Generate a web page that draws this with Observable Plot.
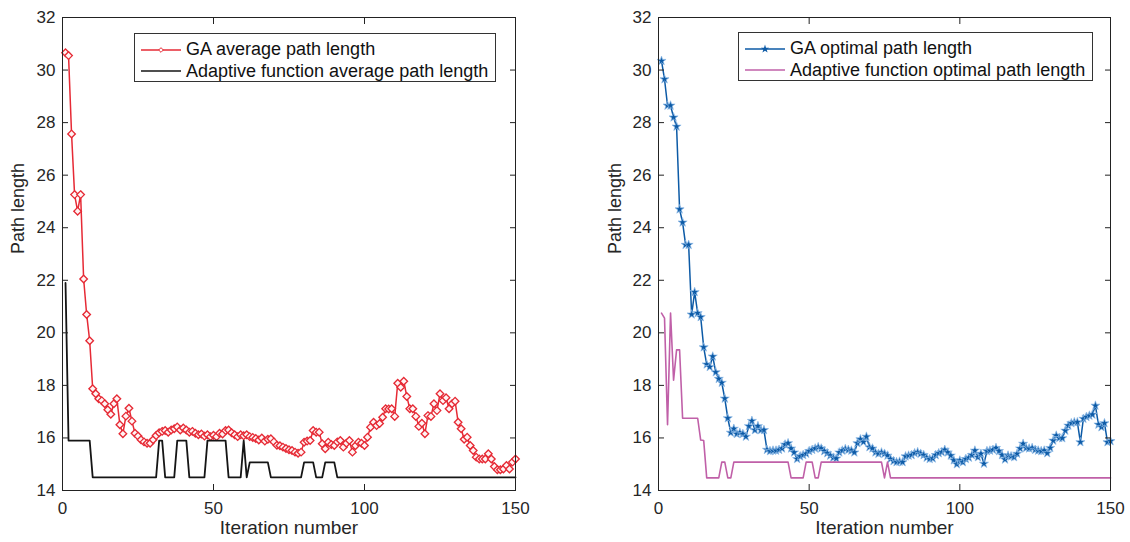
<!DOCTYPE html>
<html><head><meta charset="utf-8">
<script src="https://cdn.jsdelivr.net/npm/d3@7"></script>
<script src="https://cdn.jsdelivr.net/npm/@observablehq/plot@0.6"></script>
<style>
body{margin:0;background:#fff;}
#wrap{position:relative;width:1130px;height:542px;overflow:hidden;font-family:'Liberation Sans',Arial,sans-serif;background:#fff;}
.panel{position:absolute;top:0;}
.legend{position:absolute;background:#fff;border:1px solid #333;box-sizing:border-box;padding-top:5px;}
.legend .row{display:flex;align-items:center;height:21.5px;font-size:18px;color:#111;white-space:nowrap;}
.legend svg{margin-left:6px;margin-right:5px;flex:none;}
</style></head><body>
<div id="wrap">
  <div id="left" class="panel" style="left:0"></div>
  <div id="right" class="panel" style="left:565px"></div>
  <div id="legL" class="legend" style="left:134px;top:33px;width:362px;height:49px"></div>
  <div id="legR" class="legend" style="left:738px;top:32px;width:355px;height:49px"></div>
</div>
<script>
// ---------- data ----------
const iterations = d3.range(1, 151);
const xTicks = [0, 50, 100, 150];
const yTicks = [14, 16, 18, 20, 22, 24, 26, 28, 30, 32];

const gaAverage = [
  30.66, 30.55, 27.57, 25.26, 24.63, 25.26, 22.05, 20.7, 19.7, 17.87,
  17.68, 17.49, 17.42, 17.3, 17.07, 16.9, 17.3, 17.49, 16.5, 16.16,
  16.83, 17.13, 16.64, 16.18, 16.07, 15.93, 15.85, 15.8, 15.8, 15.93,
  16.09, 16.2, 16.25, 16.28, 16.22, 16.3, 16.35, 16.42, 16.3, 16.38,
  16.3, 16.22, 16.25, 16.18, 16.12, 16.15, 16.07, 16.12, 16.05, 16.1,
  16.05, 16.18, 16.15, 16.28, 16.3, 16.2, 16.12, 16.05, 16.12, 16.08,
  16.12, 16.05, 16.02, 15.98, 15.92, 16.0, 15.88, 15.95, 15.97, 15.85,
  15.72, 15.7, 15.65, 15.6, 15.55, 15.52, 15.46, 15.42, 15.46, 15.84,
  15.88, 15.9, 16.28, 16.22, 16.22, 15.78, 15.59, 15.84, 15.75, 15.71,
  15.85, 15.9, 15.65, 15.8, 15.9, 15.46, 15.7, 15.84, 15.8, 15.71,
  16.03, 16.41, 16.6, 16.47, 16.55, 16.79, 17.11, 17.1, 17.11, 16.82,
  18.08, 17.93, 18.16, 17.58, 17.11, 17.11, 16.82, 16.44, 16.56, 16.16,
  16.85, 16.82, 17.3, 17.04, 17.68, 17.42, 17.53, 17.11, 17.3, 17.4,
  16.6, 16.35, 15.95, 16.03, 15.71, 15.52, 15.27, 15.2, 15.2, 15.2,
  15.4, 15.2, 14.91, 14.79, 14.79, 14.82, 14.95, 14.82, 15.08, 15.2
];

const adaptiveAverage = [
  21.9, 15.9, 15.9, 15.9, 15.9, 15.9, 15.9, 15.9, 15.9, 14.5,
  14.5, 14.5, 14.5, 14.5, 14.5, 14.5, 14.5, 14.5, 14.5, 14.5,
  14.5, 14.5, 14.5, 14.5, 14.5, 14.5, 14.5, 14.5, 14.5, 14.5,
  14.5, 15.9, 15.9, 14.5, 14.5, 14.5, 14.5, 15.9, 15.9, 15.9,
  15.9, 14.5, 14.5, 14.5, 14.5, 14.5, 14.5, 15.9, 15.9, 15.9,
  15.9, 15.9, 15.9, 15.9, 14.5, 14.5, 14.5, 14.5, 14.5, 15.9,
  14.5, 15.07, 15.07, 15.07, 15.07, 15.07, 15.07, 15.07, 14.5, 14.5,
  14.5, 14.5, 14.5, 14.5, 14.5, 14.5, 14.5, 14.5, 14.5, 15.07,
  15.07, 15.07, 15.07, 14.5, 14.5, 14.5, 15.07, 15.07, 15.07, 15.07,
  14.5, 14.5, 14.5, 14.5, 14.5, 14.5, 14.5, 14.5, 14.5, 14.5,
  14.5, 14.5, 14.5, 14.5, 14.5, 14.5, 14.5, 14.5, 14.5, 14.5,
  14.5, 14.5, 14.5, 14.5, 14.5, 14.5, 14.5, 14.5, 14.5, 14.5,
  14.5, 14.5, 14.5, 14.5, 14.5, 14.5, 14.5, 14.5, 14.5, 14.5,
  14.5, 14.5, 14.5, 14.5, 14.5, 14.5, 14.5, 14.5, 14.5, 14.5,
  14.5, 14.5, 14.5, 14.5, 14.5, 14.5, 14.5, 14.5, 14.5, 14.5
];

const gaOptimal = [
  30.35, 29.65, 28.65, 28.65, 28.2, 27.85, 24.7, 24.2, 23.35, 23.35,
  20.7, 21.55, 20.75, 20.6, 19.45, 18.8, 18.7, 19.1, 18.5, 18.25,
  18.1, 17.5, 16.75, 16.2, 16.35, 16.15, 16.2, 16.15, 16.05, 16.45,
  16.65, 16.3, 16.45, 16.3, 16.3, 15.55, 15.5, 15.52, 15.52, 15.55,
  15.6, 15.75, 15.8, 15.6, 15.45, 15.2, 15.3, 15.35, 15.4, 15.5,
  15.55, 15.6, 15.65, 15.6, 15.5, 15.42, 15.33, 15.25, 15.22, 15.45,
  15.52, 15.58, 15.55, 15.52, 15.45, 15.8, 15.95, 15.85, 16.05, 15.65,
  15.6, 15.45, 15.4, 15.45, 15.4, 15.33, 15.2, 15.12, 15.08, 15.1,
  15.08, 15.3, 15.33, 15.35, 15.42, 15.46, 15.4, 15.35, 15.25, 15.2,
  15.22, 15.35, 15.42, 15.46, 15.55, 15.45, 15.33, 15.15, 15.0, 15.14,
  15.08, 15.2, 15.25, 15.35, 15.52, 15.27, 15.4, 15.02, 15.5, 15.52,
  15.55, 15.62, 15.5, 15.35, 15.18, 15.33, 15.3, 15.27, 15.4, 15.6,
  15.78, 15.62, 15.6, 15.62, 15.55, 15.52, 15.5, 15.52, 15.42, 15.62,
  15.9, 16.09, 16.0, 15.99, 16.28, 16.47, 16.56, 16.6, 16.6, 15.84,
  16.73, 16.8, 16.85, 16.89, 17.23, 16.51, 16.41, 16.56, 15.84, 15.88
];

const adaptiveOptimal = [
  20.75, 20.56, 16.5, 20.75, 18.2, 19.35, 19.35, 16.75, 16.75, 16.75,
  16.75, 16.75, 16.75, 15.92, 15.9, 14.48, 14.48, 14.48, 14.48, 14.48,
  15.08, 15.08, 14.48, 14.48, 15.08, 15.08, 15.08, 15.08, 15.08, 15.08,
  15.08, 15.08, 15.08, 15.08, 15.08, 15.08, 15.08, 15.08, 15.08, 15.08,
  15.08, 15.08, 15.08, 14.48, 14.48, 14.48, 14.48, 14.48, 15.08, 15.08,
  15.08, 14.48, 14.48, 15.08, 15.08, 15.08, 15.08, 15.08, 15.08, 15.08,
  15.08, 15.08, 15.08, 15.08, 15.08, 15.08, 15.08, 15.08, 15.08, 15.08,
  15.08, 15.08, 15.08, 15.08, 14.48, 15.08, 14.48, 14.48, 14.48, 14.48,
  14.48, 14.48, 14.48, 14.48, 14.48, 14.48, 14.48, 14.48, 14.48, 14.48,
  14.48, 14.48, 14.48, 14.48, 14.48, 14.48, 14.48, 14.48, 14.48, 14.48,
  14.48, 14.48, 14.48, 14.48, 14.48, 14.48, 14.48, 14.48, 14.48, 14.48,
  14.48, 14.48, 14.48, 14.48, 14.48, 14.48, 14.48, 14.48, 14.48, 14.48,
  14.48, 14.48, 14.48, 14.48, 14.48, 14.48, 14.48, 14.48, 14.48, 14.48,
  14.48, 14.48, 14.48, 14.48, 14.48, 14.48, 14.48, 14.48, 14.48, 14.48,
  14.48, 14.48, 14.48, 14.48, 14.48, 14.48, 14.48, 14.48, 14.48, 14.48
];

const legendLeft = ["GA average path length", "Adaptive function average path length"];
const legendRight = ["GA optimal path length", "Adaptive function optimal path length"];

// ---------- style ----------
const FONT = "'Liberation Sans', Arial, sans-serif";
const RED = "#e62a35", BLACK = "#151515", BLUE = "#0c5aa6", PINK = "#c060a8", AXIS = "#222";
const blank = () => "";

function frameMarks(yLabelDx) {
  return [
    Plot.frame({stroke: AXIS, strokeWidth: 1}),
    // inward tick marks on all four sides (box style)
    Plot.axisX(xTicks, {anchor: "bottom", tickSize: 6, dy: -6, tickFormat: blank, label: null, stroke: AXIS}),
    Plot.axisX(xTicks, {anchor: "top", tickSize: 6, dy: 6, tickFormat: blank, label: null, stroke: AXIS}),
    Plot.axisY(yTicks, {anchor: "left", tickSize: 6, dx: 6, tickFormat: blank, label: null, stroke: AXIS}),
    Plot.axisY(yTicks, {anchor: "right", tickSize: 6, dx: -6, tickFormat: blank, label: null, stroke: AXIS}),
    // tick labels
    Plot.axisX(xTicks, {anchor: "bottom", tickSize: 0, tickPadding: 11, label: null}),
    Plot.axisY(yTicks, {anchor: "left", tickSize: 0, tickPadding: 7, label: null}),
    Plot.text(["Iteration number"], {frameAnchor: "bottom", dy: 43, fontSize: 19, style: "letter-spacing:0.6px"}),
    Plot.text(["Path length"], {frameAnchor: "left", dx: yLabelDx, rotate: -90, fontSize: 18})
  ];
}

const common = {
  width: 565, height: 542, marginTop: 17, marginBottom: 52,
  x: {domain: [0, 150]},
  y: {domain: [14, 32]},
  style: {fontFamily: FONT, fontSize: "17px", color: "#262626", background: "transparent", overflow: "visible"}
};

const leftPlot = Plot.plot({
  ...common, marginLeft: 62, marginRight: 50,
  marks: [
    Plot.line(gaAverage, {x: iterations, y: gaAverage, stroke: RED, strokeWidth: 1.5}),
    Plot.dot(gaAverage, {x: iterations, y: gaAverage, symbol: "diamond2", r: 3.4, stroke: RED, fill: "#fff4f4", strokeWidth: 1.35}),
    Plot.line(adaptiveAverage, {x: iterations, y: adaptiveAverage, stroke: BLACK, strokeWidth: 1.8}),
    ...frameMarks(-44)
  ]
});
document.getElementById("left").append(leftPlot);

const rightPlot = Plot.plot({
  ...common, marginLeft: 93, marginRight: 20,
  marks: [
    Plot.line(gaOptimal, {x: iterations, y: gaOptimal, stroke: BLUE, strokeWidth: 1.5}),
    Plot.dot(gaOptimal, {x: iterations, y: gaOptimal, symbol: "star", r: 2.85, fill: BLUE, stroke: "#8fbbe8", strokeWidth: 0.7}),
    Plot.line(adaptiveOptimal, {x: iterations, y: adaptiveOptimal, stroke: PINK, strokeWidth: 1.6}),
    ...frameMarks(-43)
  ]
});
document.getElementById("right").append(rightPlot);

// ---------- legends ----------
function swatch(color, width, markerPath, markerFill, markerStroke) {
  const ns = "http://www.w3.org/2000/svg";
  const svg = document.createElementNS(ns, "svg");
  svg.setAttribute("width", 40); svg.setAttribute("height", 12);
  const l = document.createElementNS(ns, "line");
  l.setAttribute("x1", 0); l.setAttribute("x2", 40); l.setAttribute("y1", 6); l.setAttribute("y2", 6);
  l.setAttribute("stroke", color); l.setAttribute("stroke-width", width);
  svg.append(l);
  if (markerPath) {
    const p = document.createElementNS(ns, "path");
    p.setAttribute("d", markerPath); p.setAttribute("transform", "translate(20,6)");
    p.setAttribute("fill", markerFill); p.setAttribute("stroke", markerStroke); p.setAttribute("stroke-width", 1);
    svg.append(p);
  }
  return svg;
}
function legend(id, items) {
  const box = document.getElementById(id);
  for (const it of items) {
    const row = document.createElement("div");
    row.className = "row";
    row.append(it.svg);
    const s = document.createElement("span");
    s.textContent = it.label;
    row.append(s);
    box.append(row);
  }
}
legend("legL", [
  {label: legendLeft[0], svg: swatch(RED, 1.4, d3.symbol(d3.symbolDiamond2, 14)(), "white", RED)},
  {label: legendLeft[1], svg: swatch(BLACK, 1.6)}
]);
legend("legR", [
  {label: legendRight[0], svg: swatch(BLUE, 1.4, d3.symbol(d3.symbolStar, 22)(), BLUE, "none")},
  {label: legendRight[1], svg: swatch(PINK, 1.5)}
]);
</script>
</body></html>
